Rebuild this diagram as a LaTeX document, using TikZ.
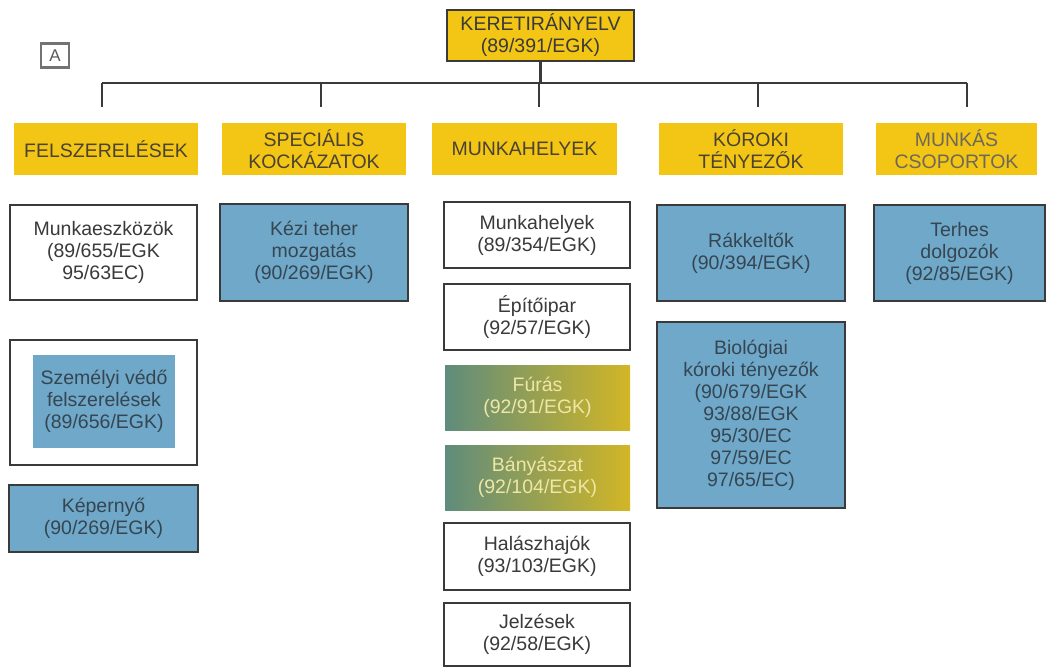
\documentclass[tikz,border=0pt]{standalone}
\usepackage{fontspec}
\setmainfont{Liberation Sans}
\usetikzlibrary{positioning,calc}
\definecolor{hdrYellow}{HTML}{F3C515}
\definecolor{lawBlue}{HTML}{6FA8C8}
\definecolor{lineGrey}{HTML}{3A3A3A}
\definecolor{txtGrey}{HTML}{3A3A3A}
\definecolor{txtSlate}{HTML}{354652}
\definecolor{hdrText}{HTML}{4A4232}
\definecolor{gradLeft}{HTML}{5F8C7C}
\definecolor{gradRight}{HTML}{D2B626}
\definecolor{gradText}{HTML}{EEE7A6}

\begin{document}
\begin{tikzpicture}[
  x=1pt,y=-1pt,
  every node/.style={inner sep=0pt,align=center,font=\fontsize{19.5}{22}\selectfont},
  header/.style={fill=hdrYellow,text=hdrText,minimum width=184,minimum height=52},
  lawbox/.style={draw=lineGrey,line width=2.6pt,fill=white,text=txtGrey,minimum width=186,minimum height=66},
  bluebox/.style={draw=lineGrey,line width=2.6pt,fill=lawBlue,text=txtSlate,minimum width=188,minimum height=96},
  gradbox/.style={left color=gradLeft,right color=gradRight,text=gradText,minimum width=185,minimum height=65},
  conn/.style={draw=lineGrey,line width=2.8pt}]
  \useasboundingbox (0,0) rectangle (1048,668);

  \node[draw=black!55,line width=2.4pt,text=black!65,font=\fontsize{17}{19}\selectfont,
        minimum width=28,minimum height=24] (tag) at (55,55.5) {A};

  \node[header,draw=lineGrey,line width=2.6pt,minimum width=187,minimum height=51,text=txtGrey] (root) at (540.5,35.5) {KERETIRÁNYELV\\(89/391/EGK)};

  \node[header] (felsz) at (106,149) {FELSZERELÉSEK};
  \node[header] (spec) at (314,149) {SPECIÁLIS\\KOCKÁZATOK};
  \node[header,minimum width=185] (munka) at (524.5,149) {MUNKAHELYEK};
  \node[header] (koroki) at (751,149) {KÓROKI\\TÉNYEZŐK};
  \node[header,minimum width=161,text=hdrText!80] (csop) at (956.5,149) {MUNKÁS\\CSOPORTOK};

  \foreach \i/\xx in {1/102,2/321,3/539,4/758,5/967} {
    \coordinate (t\i) at (\xx,83);
    \coordinate (d\i) at (\xx,107);
    \draw[conn] (t\i) -- (d\i);
  }
  \draw[conn] (t1) -- (t5);
  \draw[conn] (root.south) -- (root.south |- t3);

  \node[lawbox,minimum width=187,minimum height=95] (eszk) at (103.5,252.5) {Munkaeszközök\\(89/655/EGK\\95/63EC)};
  \node[lawbox,minimum width=187,minimum height=125] (szemOut) at (103.5,402.5) {};
  \node[fill=lawBlue,text=txtSlate,minimum width=142,minimum height=93] (szem) at (104,401.5) {Személyi védő\\felszerelések\\(89/656/EGK)};
  \node[bluebox,minimum width=189,minimum height=67] (kep) at (103.5,518.5) {Képernyő\\(90/269/EGK)};

  \node[bluebox,minimum height=97] (kezi) at (314,252.5) {Kézi teher\\mozgatás\\(90/269/EGK)};

  \node[lawbox] (mhely) at (537,235) {Munkahelyek\\(89/354/EGK)};
  \node[lawbox] (epito) at (537,317) {Építőipar\\(92/57/EGK)};
  \node[gradbox] (furas) at (537.5,397.5) {Fúrás\\(92/91/EGK)};
  \node[gradbox] (banya) at (537.5,477.5) {Bányászat\\(92/104/EGK)};
  \node[lawbox,minimum height=67] (halasz) at (537,556.5) {Halászhajók\\(93/103/EGK)};
  \node[lawbox,minimum height=63] (jelz) at (537,634.5) {Jelzések\\(92/58/EGK)};

  \node[bluebox] (rak) at (751,253) {Rákkeltők\\(90/394/EGK)};
  \node[bluebox,minimum height=186] (bio) at (751,415) {Biológiai\\kóroki tényezők\\(90/679/EGK\\93/88/EGK\\95/30/EC\\97/59/EC\\97/65/EC)};

  \node[bluebox,minimum width=171] (terhes) at (959.5,253) {Terhes\\dolgozók\\(92/85/EGK)};
\end{tikzpicture}
\end{document}
